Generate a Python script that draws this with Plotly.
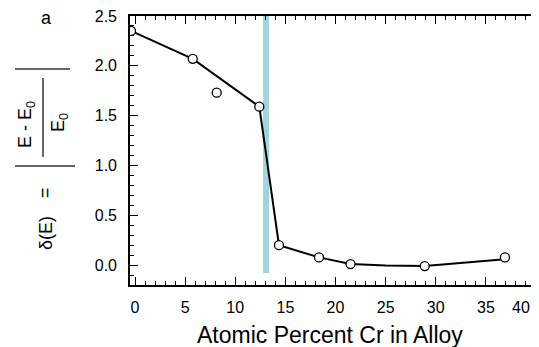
import plotly.graph_objects as go

# Measured data points (atomic percent Cr, delta(E))
cr_pct = [-0.4, 5.76, 8.15, 12.4, 14.36, 18.35, 21.5, 28.9, 36.9]
delta_e = [2.35, 2.07, 1.73, 1.59, 0.20, 0.077, 0.01, -0.01, 0.077]

# Smooth guide curve drawn through the data
fit_x = [-0.4, 5.76, 12.4, 14.36, 18.35, 21.5, 25.0, 28.9, 36.6]
fit_y = [2.35, 2.07, 1.59, 0.20, 0.077, 0.01, -0.005, -0.01, 0.055]

# Highlighted threshold band
band_x = [13.07, 13.07]
band_y = [-0.08, 2.5]

x_ticks = [0, 5, 10, 15, 20, 25, 30, 35]
x_last_label = "40"
y_ticks = [0.0, 0.5, 1.0, 1.5, 2.0, 2.5]

# page is drawn with an 8px body margin, so the figure is shifted by OFF
OFF = 8
W, H = 539 - OFF, 347 - OFF
L, T = 130 - OFF, 16 - OFF
R = W - (531 - OFF)
B = H - (285 - OFF)
PW, PH = W - L - R, H - T - B


def px(x):
    """page-pixel x -> paper coordinate"""
    return (x - OFF - L) / PW


def py(y):
    """page-pixel y -> paper coordinate"""
    return (H - B - (y - OFF)) / PH


fig = go.Figure()
fig.add_trace(go.Scatter(x=band_x, y=band_y, mode="lines",
                         line=dict(color="#9fd6da", width=6), hoverinfo="skip"))
fig.add_trace(go.Scatter(x=fit_x, y=fit_y, mode="lines",
                         line=dict(color="black", width=2), hoverinfo="skip"))
fig.add_trace(go.Scatter(x=cr_pct, y=delta_e, mode="markers",
                         marker=dict(symbol="circle", size=9, color="white",
                                     line=dict(color="black", width=1.3))))

FONT = "Liberation Sans, Arial, sans-serif"

fig.update_layout(
    width=W, height=H,
    margin=dict(l=L, r=R, t=T, b=B, autoexpand=False),
    paper_bgcolor="white", plot_bgcolor="white",
    showlegend=False,
    font=dict(family=FONT, color="black"),
    xaxis=dict(
        range=[-0.5, 39.5], tickmode="array", tickvals=x_ticks,
        ticktext=[str(v) for v in x_ticks],
        ticks="inside", ticklen=8, tickwidth=1.3, tickcolor="black",
        minor=dict(dtick=1, ticks="inside", ticklen=4, tickcolor="black", tickwidth=1),
        showline=True, linecolor="black", linewidth=1.6, mirror="ticks",
        showgrid=False, zeroline=False, automargin=False,
        tickfont=dict(size=16, family=FONT), ticklabeloverflow="allow",
        ticklabelstandoff=7,
    ),
    yaxis=dict(
        range=[-0.2, 2.5], tickmode="array", tickvals=y_ticks,
        ticktext=[f"{v:.1f}" for v in y_ticks],
        ticks="inside", ticklen=8, tickwidth=1.3, tickcolor="black",
        minor=dict(dtick=0.1, ticks="inside", ticklen=4, tickcolor="black", tickwidth=1),
        showline=True, linecolor="black", linewidth=1.6, mirror=True,
        showgrid=False, zeroline=False, automargin=False,
        tickfont=dict(size=16, family=FONT), ticklabeloverflow="allow",
        ticklabelstandoff=8,
    ),
)

ann = dict(xref="paper", yref="paper", showarrow=False, xanchor="center", yanchor="middle",
           font=dict(size=18, family=FONT))
fig.add_annotation(x=px(46), y=py(18), text="a", **ann)
fig.add_annotation(x=px(27), y=py(125), text="E - E<sub>0</sub>", textangle=-90, **ann)
fig.add_annotation(x=px(60), y=py(123), text="E<sub>0</sub>", textangle=-90, **ann)
fig.add_annotation(x=px(45), y=py(193), text="=", textangle=-90, **ann)
fig.add_annotation(x=px(46), y=py(233), text="δ(E)", textangle=-90, **ann)
fig.add_annotation(x=px(532), y=py(307), text=x_last_label, xanchor="right", yanchor="middle",
                   xref="paper", yref="paper", showarrow=False, font=dict(size=16, family=FONT))
fig.add_annotation(x=px(330), y=py(335), text="Atomic Percent Cr in Alloy",
                   xref="paper", yref="paper", showarrow=False, xanchor="center", yanchor="middle",
                   font=dict(size=23, family=FONT))

line_style = dict(color="#333", width=1.5)
fig.add_shape(type="line", xref="paper", yref="paper",
              x0=px(15), x1=px(70), y0=py(69), y1=py(69), line=line_style)
fig.add_shape(type="line", xref="paper", yref="paper",
              x0=px(15), x1=px(75), y0=py(166), y1=py(166), line=line_style)
fig.add_shape(type="line", xref="paper", yref="paper",
              x0=px(43), x1=px(43), y0=py(78), y1=py(157), line=line_style)

fig.write_html("out.html")
